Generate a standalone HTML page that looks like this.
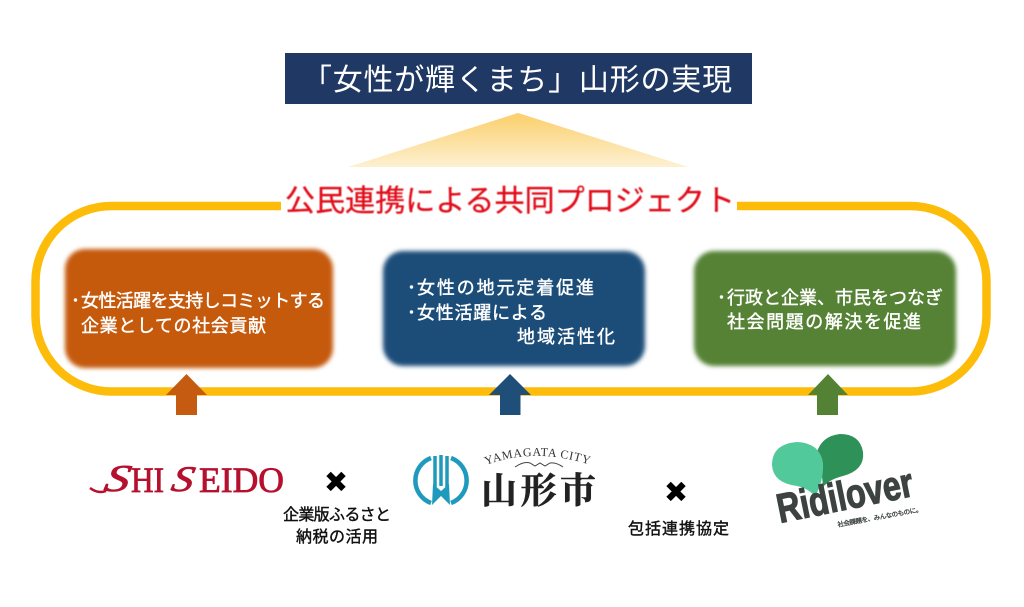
<!DOCTYPE html>
<html lang="ja"><head><meta charset="utf-8"><title>公民連携</title>
<style>
html,body{margin:0;padding:0;background:#fff;width:1024px;height:607px;overflow:hidden}
svg{display:block}
text{font-family:"Liberation Sans","Noto Sans CJK JP",sans-serif}
.w{fill:#fff;font-size:18px;stroke:#fff;stroke-width:.4px}
.k{fill:#111;font-size:16px;stroke:#111;stroke-width:.4px}
</style></head><body>
<svg width="1024" height="607" viewBox="0 0 1024 607" xmlns="http://www.w3.org/2000/svg">
<defs>
<linearGradient id="g" x1="0" y1="0" x2="0" y2="1"><stop offset="0" stop-color="#fbcf6a"/><stop offset="1" stop-color="#fdf0d2"/></linearGradient>
<filter id="b" x="-10%" y="-10%" width="120%" height="120%"><feGaussianBlur stdDeviation="2"/></filter>
<filter id="s" x="-5%" y="-30%" width="110%" height="160%"><feGaussianBlur stdDeviation=".4"/></filter>
<path id="arc" d="M486 465 Q540 445 602 469"/>
</defs>
<rect width="1024" height="607" fill="#fff"/>
<rect x="285" y="53" width="467" height="51" fill="#1f3864"/>
<text x="302" y="90" font-size="30" fill="#fff" textLength="430" lengthAdjust="spacing">「女性が輝くまち」山形の実現</text>
<polygon points="518,113 688,167 348,167" fill="url(#g)"/>
<rect x="35.5" y="206" width="951" height="185.500" rx="76" ry="76" fill="none" stroke="#fdbc09" stroke-width="8.500"/>
<rect x="281" y="186" width="456" height="32" fill="#fff"/>
<text x="285" y="211" font-size="30" fill="#e2101a" stroke="#e2101a" stroke-width=".3" textLength="450" lengthAdjust="spacing" filter="url(#s)">公民連携による共同プロジェクト</text>

<rect x="65" y="249" width="268" height="119" rx="20" fill="#c55a11" filter="url(#b)"/>
<rect x="383" y="251" width="262" height="115" rx="20" fill="#1f4e79" filter="url(#b)"/>
<rect x="694" y="251" width="262" height="115" rx="20" fill="#548235" filter="url(#b)"/>

<text class="w" x="71" y="307">･</text>
<text class="w" x="81" y="307" textLength="244" lengthAdjust="spacing">女性活躍を支持しコミットする</text>
<text class="w" x="81" y="332" textLength="185" lengthAdjust="spacing">企業としての社会貢献</text>
<text class="w" x="407" y="294">･</text>
<text class="w" x="417" y="294" textLength="177" lengthAdjust="spacing">女性の地元定着促進</text>
<text class="w" x="407" y="319">･</text>
<text class="w" x="417" y="319" textLength="130" lengthAdjust="spacing">女性活躍による</text>
<text class="w" x="517" y="343" textLength="98" lengthAdjust="spacing">地域活性化</text>
<text class="w" x="717" y="304">･</text>
<text class="w" x="727" y="304" textLength="216" lengthAdjust="spacing">行政と企業、市民をつなぎ</text>
<text class="w" x="727" y="328" textLength="194" lengthAdjust="spacing">社会問題の解決を促進</text>

<polygon points="186.500,374 207,395 197,395 197,415 176,415 176,395 166,395" fill="#c55a11"/>
<polygon points="510,374 531,395 520.500,395 520.500,415 500,415 500,395 489,395" fill="#1f4e79"/>
<polygon points="828,374 848,395 838,395 838,415 817,415 817,395 808,395" fill="#548235"/>

<!-- Shiseido -->
<g fill="#b5112f" stroke="#b5112f" stroke-width=".8">
<text transform="translate(103 491) skewX(-12) scale(1.3 1)" font-size="38" font-style="italic" style="font-family:'Liberation Serif',serif">S</text>
<text x="131" y="492" font-size="36" style="font-family:'Liberation Serif',serif" textLength="33" lengthAdjust="spacingAndGlyphs">HI</text>
<text transform="translate(170 491) skewX(-12) scale(1.2 1)" font-size="36" font-style="italic" style="font-family:'Liberation Serif',serif">S</text>
<text x="199" y="492" font-size="36" style="font-family:'Liberation Serif',serif" textLength="85" lengthAdjust="spacingAndGlyphs">EIDO</text>
</g>
<path d="M90 488 Q98 494 106 491" fill="none" stroke="#b5112f" stroke-width="2.500"/>

<text x="336" y="492" font-size="29" text-anchor="middle" fill="#000" style="font-family:'DejaVu Sans',sans-serif">✖</text>
<text x="676" y="502" font-size="29" text-anchor="middle" fill="#000" style="font-family:'DejaVu Sans',sans-serif">✖</text>
<text class="k" x="283" y="520" textLength="108" lengthAdjust="spacing">企業版ふるさと</text>
<text class="k" x="296" y="542" textLength="82" lengthAdjust="spacing">納税の活用</text>
<text class="k" x="628" y="534" textLength="101" lengthAdjust="spacing">包括連携協定</text>

<!-- Yamagata -->
<path d="M431 458 A24 24 0 0 0 431 503 M451 458 A24 24 0 0 1 451 503" fill="none" stroke="#1f9abd" stroke-width="4.500"/>
<path d="M435 456 V490 M441 455 V486 M447 456 V490" fill="none" stroke="#1f9abd" stroke-width="3.500"/>
<polygon points="433,484 441,491 449,484 450,505 441,496 432,505" fill="#1f9abd"/>
<text font-size="12" fill="#333" letter-spacing=".7" style="font-family:'Liberation Serif',serif"><textPath href="#arc" startOffset="0">YAMAGATA CITY</textPath></text>
<path d="M515 467 Q524 461 530 463 L535 466 L540 463 L545 466 L550 463 Q556 462 563 467" fill="none" stroke="#444" stroke-width="1"/>
<text x="481" y="503" font-size="36" font-weight="700" fill="#222" stroke="#222" stroke-width=".5" textLength="115" lengthAdjust="spacing" style="font-family:'Noto Serif CJK SC','Noto Sans CJK JP',serif">山形市</text>

<!-- Ridilover -->
<path d="M817 452 Q822 436 840 434 Q860 434 863 452 Q865 470 843 476 Q830 479 823 487 Q822 470 817 452 Z" fill="#2e9158"/>
<path d="M772 465 Q772 444 797 442 Q820 443 823 463 Q824 480 815 497 Q810 489 797 486 Q773 483 772 465 Z" fill="#52c99a"/>
<g transform="translate(780 523) rotate(-11.500)">
<text x="0" y="0" font-size="41" font-weight="700" fill="#3c4340" stroke="#3c4340" stroke-width="1.200" textLength="138" lengthAdjust="spacingAndGlyphs">Ridilover</text>
</g>
<g transform="translate(838 527) rotate(-10.500)">
<text x="0" y="0" font-size="6.500" fill="#3c4340" stroke="#3c4340" stroke-width=".3" textLength="86" lengthAdjust="spacing">社会課題を、みんなのものに。</text>
</g>
</svg>
</body></html>
